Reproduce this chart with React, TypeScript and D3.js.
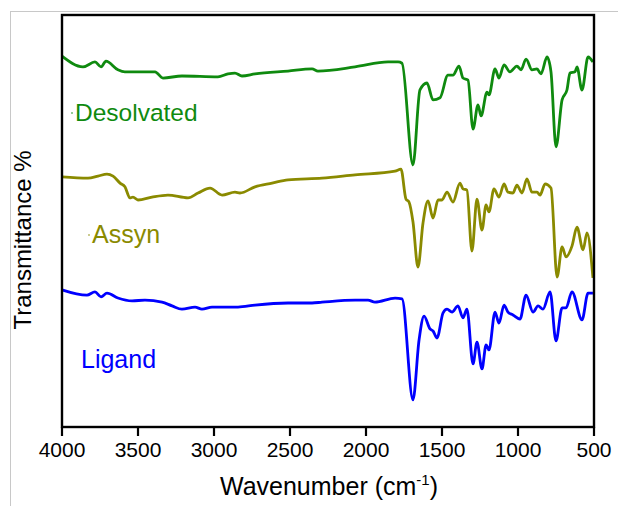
import React from "react";
import * as d3 from "d3";

const xTicks = [4000, 3500, 3000, 2500, 2000, 1500, 1000, 500];

const desolvatedWn = [4000, 3862, 3783, 3743, 3711, 3632, 3586, 3388, 3336, 3211, 2974, 2908, 2862, 2816, 2730, 2513, 2355, 2316, 2072, 1855, 1789, 1763, 1691, 1645, 1599, 1559, 1513, 1461, 1428, 1388, 1362, 1329, 1296, 1263, 1243, 1204, 1191, 1151, 1125, 1092, 1053, 1007, 980, 947, 908, 875, 849, 809, 783, 750, 710, 678, 658, 625, 612, 579, 539, 507];
const desolvatedT = [90.0, 87.4, 88.6, 87.4, 88.8, 86.7, 86.2, 86.2, 84.7, 85.2, 85.0, 85.7, 85.9, 85.2, 85.7, 86.4, 86.9, 86.4, 87.4, 88.6, 88.6, 88.3, 63.6, 81.8, 83.5, 79.4, 79.9, 85.4, 85.4, 87.6, 84.7, 84.2, 72.3, 78.2, 75.5, 81.3, 80.6, 86.9, 84.7, 87.9, 86.2, 87.6, 86.7, 89.3, 86.7, 86.9, 85.7, 89.8, 86.2, 68.0, 79.4, 81.8, 85.9, 86.2, 87.4, 81.8, 89.8, 88.6];

const assynWn = [4000, 3829, 3763, 3704, 3664, 3618, 3586, 3553, 3533, 3500, 3408, 3303, 3171, 3105, 3026, 2947, 2862, 2829, 2730, 2618, 2513, 2289, 2072, 1809, 1770, 1737, 1717, 1691, 1658, 1625, 1592, 1559, 1526, 1500, 1467, 1428, 1382, 1362, 1336, 1303, 1270, 1237, 1210, 1191, 1158, 1125, 1092, 1066, 1033, 1007, 974, 941, 908, 875, 855, 822, 783, 743, 710, 684, 645, 612, 572, 546, 507];
const assynT = [60.7, 60.4, 60.9, 61.4, 60.9, 59.2, 58.3, 55.6, 55.8, 55.1, 55.8, 56.3, 55.6, 56.8, 58.0, 56.3, 57.0, 56.8, 58.3, 59.2, 60.0, 60.4, 61.2, 62.1, 62.6, 55.3, 54.6, 49.8, 38.8, 49.5, 54.9, 50.7, 55.1, 55.1, 57.0, 54.6, 59.2, 57.8, 57.5, 42.7, 55.3, 47.8, 53.9, 52.2, 57.8, 55.8, 59.0, 57.0, 56.8, 58.7, 56.8, 60.2, 57.0, 57.0, 56.3, 59.0, 58.0, 36.4, 43.7, 41.3, 43.9, 48.5, 43.0, 47.1, 36.2];

const ligandWn = [4000, 3836, 3783, 3743, 3704, 3632, 3539, 3454, 3342, 3276, 3211, 3125, 3079, 3013, 2908, 2842, 2730, 2513, 2355, 2289, 2072, 1987, 1941, 1809, 1763, 1691, 1651, 1618, 1579, 1559, 1533, 1493, 1467, 1434, 1395, 1362, 1336, 1296, 1270, 1237, 1210, 1191, 1151, 1125, 1092, 1066, 1033, 987, 947, 901, 868, 836, 789, 750, 710, 684, 645, 579, 539, 507];
const ligandT = [33.3, 32.0, 32.8, 31.6, 32.5, 31.3, 30.6, 30.8, 30.3, 29.4, 28.6, 29.1, 28.6, 29.1, 29.1, 29.1, 29.6, 30.1, 30.1, 30.3, 30.8, 30.8, 30.3, 31.3, 31.1, 6.6, 21.1, 26.9, 23.8, 23.3, 21.6, 27.7, 28.6, 27.9, 29.4, 26.5, 28.6, 15.3, 20.6, 14.1, 19.9, 18.7, 27.9, 25.2, 29.6, 27.9, 27.2, 26.2, 32.0, 27.9, 29.4, 28.6, 32.8, 20.9, 28.9, 28.9, 32.8, 26.0, 32.5, 32.5];

const seriesNames = ["Desolvated", "Assyn", "Ligand"];
const seriesColors = ["#0f8a0f", "#8a8a00", "#0000ff"];

export default function App() {
  const W = 618, H = 506;
  const left = 62, right = 594, top = 15, bottom = 427;
  const x = d3.scaleLinear().domain([4000, 500]).range([left, right]);
  const y = d3.scaleLinear().domain([0, 100]).range([bottom, top]);
  const line = d3
    .line<[number, number]>()
    .x((d) => x(d[0]))
    .y((d) => y(d[1]))
    .curve(d3.curveMonotoneX);
  const series = [
    desolvatedWn.map((w, i) => [w, desolvatedT[i]] as [number, number]),
    assynWn.map((w, i) => [w, assynT[i]] as [number, number]),
    ligandWn.map((w, i) => [w, ligandT[i]] as [number, number]),
  ];
  const labelPos = [
    { x: 75, y: 121, size: 24.5, dot: true },
    { x: 92, y: 243, size: 25, dot: true },
    { x: 81, y: 368, size: 25, dot: false },
  ];
  const font = "Liberation Sans, Arial, sans-serif";
  return (
    <svg width={W} height={H} style={{ position: "absolute", left: 0, top: 0, background: "#fff" }}>
      <rect x={0} y={0} width={W} height={H} fill="#fff" />
      <line x1={10.5} y1={11} x2={10.5} y2={H} stroke="#c8c8c8" strokeWidth={1} />
      <line x1={10} y1={11.5} x2={W} y2={11.5} stroke="#c8c8c8" strokeWidth={1} />
      {series.map((s, i) => (
        <path key={i} d={line(s) || ""} fill="none" stroke={seriesColors[i]} strokeWidth={2.8} strokeLinejoin="round" />
      ))}
      <rect x={left} y={top} width={right - left} height={bottom - top} fill="none" stroke="#000" strokeWidth={2.4} />
      {xTicks.map((t) => (
        <g key={t}>
          <line x1={x(t)} x2={x(t)} y1={bottom} y2={bottom + 9} stroke="#000" strokeWidth={2.2} />
          <text x={x(t)} y={457} textAnchor="middle" fontSize={21} fontFamily={font} fill="#000">
            {t}
          </text>
        </g>
      ))}
      <text x={329} y={495} textAnchor="middle" fontSize={25} fontFamily={font} fill="#000">
        Wavenumber (cm
        <tspan fontSize={15} dy={-10}>-1</tspan>
        <tspan dy={10}>)</tspan>
      </text>
      <text transform={`translate(31,240) rotate(-90)`} textAnchor="middle" fontSize={24} fontFamily={font} fill="#000">
        Transmittance %
      </text>
      {seriesNames.map((n, i) => (
        <g key={n}>
          {labelPos[i].dot && (
            <circle cx={labelPos[i].x - 3} cy={labelPos[i].y - 8} r={0.8} fill={seriesColors[i]} />
          )}
          <text x={labelPos[i].x} y={labelPos[i].y} fontSize={labelPos[i].size} fontFamily={font} fill={seriesColors[i]}>
            {n}
          </text>
        </g>
      ))}
    </svg>
  );
}
